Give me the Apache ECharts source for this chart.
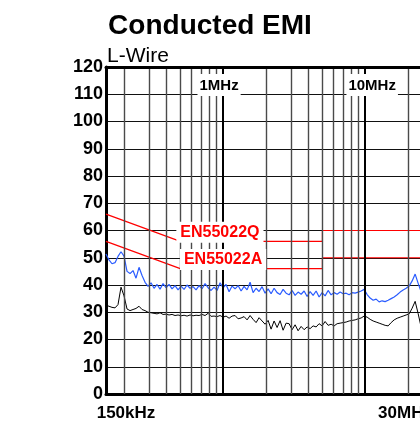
<!DOCTYPE html>
<html>
<head>
<meta charset="utf-8">
<script src="https://cdn.jsdelivr.net/npm/echarts@6/dist/echarts.min.js"></script>
<style>
  html, body { margin: 0; padding: 0; background: #fff; }
  #chart { width: 420px; height: 428px; }
</style>
</head>
<body>
<div id="chart"></div>
<script>
// ---- Data (frequencies in MHz, levels in dBuV) ----
const sweepFreqs = [
  0.150,0.1575,0.1653,0.1736,0.1822,0.1913,0.2009,0.2109,0.2214,0.2324,
  0.2440,0.2562,0.2690,0.2824,0.2964,0.3112,0.3267,0.3430,0.3601,0.3780,
  0.3969,0.4166,0.4374,0.4592,0.4821,0.5061,0.5313,0.5578,0.5856,0.6148,
  0.6454,0.6776,0.7113,0.7468,0.7840,0.8231,0.8641,0.9072,0.9524,1.000,
  1.0497,1.1020,1.1569,1.2146,1.2751,1.3386,1.4053,1.4753,1.5489,1.6260,
  1.7071,1.7921,1.8814,1.9752,2.0736,2.1769,2.2854,2.3993,2.5188,2.6444,
  2.7761,2.9145,3.0597,3.2122,3.3722,3.5403,3.7167,3.9019,4.0963,4.3004,
  4.5147,4.7397,4.9759,5.2238,5.4841,5.7574,6.0443,6.3454,6.6616,6.9936,
  7.3421,7.7079,8.0920,8.4952,8.9185,9.3630,9.8295,10.319,10.833,11.373,
  11.940,12.535,13.159,13.815,14.503,15.226,15.985,16.781,17.617,18.495,
  19.417,20.384,21.400,22.466,23.586,24.761
];
const peakValues = [
  51.4,49.2,47.8,48.2,50.5,52.2,50.6,45.0,44.2,45.3,
  42.5,46.5,43.5,41.0,39.5,40.8,38.8,40.2,38.5,40.5,
  39.0,40.2,38.6,39.8,38.2,39.6,38.4,40.0,38.8,39.4,
  38.2,39.8,38.6,40.5,39.0,38.0,39.2,38.0,40.8,39.0,
  40.2,37.5,39.6,38.6,39.8,37.8,39.5,38.2,41.0,37.2,
  38.8,37.6,39.4,37.0,38.6,36.8,38.8,37.2,36.5,38.4,
  37.0,36.4,38.0,36.2,37.4,36.6,37.8,35.8,37.6,36.2,
  37.8,35.6,37.2,36.0,38.0,36.4,37.2,36.6,37.4,36.8,
  37.0,36.4,37.2,37.0,37.4,37.8,38.4,36.5,35.2,34.4,
  34.8,33.8,34.2,33.9,34.4,35.0,35.6,36.4,37.4,38.2,
  38.8,39.6,41.5,44.0,40.6,37.5
];
const avgValues = [
  32.6,32.2,31.8,31.6,32.8,39.2,36.0,31.2,30.6,31.0,
  31.4,32.2,31.0,30.6,30.0,29.8,29.6,29.4,29.8,29.2,
  29.3,29.0,29.2,28.8,29.0,28.7,28.9,28.6,29.0,28.7,
  28.9,28.8,29.2,28.8,29.6,28.5,28.6,28.4,28.8,28.2,
  28.6,27.8,28.6,28.8,27.6,27.9,28.4,27.2,28.8,27.4,
  26.2,28.0,26.8,25.6,27.0,23.8,26.8,24.4,26.9,23.4,
  26.0,25.8,23.6,25.4,23.2,24.8,23.6,24.6,24.0,25.0,
  24.6,25.8,25.0,26.6,25.2,25.6,25.0,25.8,26.0,26.2,
  26.4,26.8,27.0,27.2,27.6,27.9,28.6,28.2,27.4,26.8,
  26.4,26.0,25.6,25.2,25.0,26.2,27.2,27.8,28.2,28.6,
  29.0,29.4,31.5,34.0,29.5,24.5
];
const limitFreqs = [0.15, 0.5, 5, 5, 30];
const limitQ = [66, 56, 56, 60, 60];
const limitA = [56, 46, 46, 50, 50];
const limitNames = ['EN55022Q', 'EN55022A'];
const gridFreqs = [0.2,0.3,0.4,0.5,0.6,0.7,0.8,0.9,1,2,3,4,5,6,7,8,9,10,20];
const majorFreqs = [1, 10];
const xLabelValues = [0.15, 1, 10, 30];
const xLabelTexts = ['150kHz', '1MHz', '10MHz', '30MHz'];
const yMin = 0, yMax = 120, yStep = 10;

const FONT = '"Liberation Sans", Arial, Helvetica, sans-serif';
const pair = (xs, ys) => xs.map((x, i) => [x, ys[i]]);
const near = (a, b) => Math.abs(Math.log10(a) - Math.log10(b)) < 1e-3;
const labelIdx = v => xLabelValues.findIndex(t => near(t, v));

const chart = echarts.init(document.getElementById('chart'), null, { renderer: 'canvas' });
chart.setOption({
  animation: false,
  backgroundColor: '#fff',
  title: [
    { text: 'Conducted EMI', left: 'center', top: 12, padding: 0,
      textStyle: { fontFamily: FONT, fontSize: 28, fontWeight: 'bold', color: '#000' } },
    { text: 'L-Wire', left: 107, top: 46, padding: 0,
      textStyle: { fontFamily: FONT, fontSize: 21, fontWeight: 'normal', color: '#000' } }
  ],
  grid: { left: 106, right: -13, top: 67, bottom: 34, containLabel: false, outerBoundsMode: 'none' },
  xAxis: [
    {
      type: 'log', logBase: 10, min: 0.15, max: 30, position: 'bottom',
      axisLine: { show: true, lineStyle: { color: '#000', width: 3 } },
      axisTick: { show: false }, splitLine: { show: false },
      axisLabel: {
        show: true, showMinLabel: true, showMaxLabel: true, margin: 11,
        formatter: v => {
          const i = labelIdx(v);
          if (i === 0) return '{sp| }{b|' + xLabelTexts[0] + '}';
          if (i === 3) return '{b|' + xLabelTexts[3] + '}{sp2| }';
          return '';
        },
        rich: {
          b: { fontFamily: FONT, fontSize: 17, fontWeight: 'bold', color: '#000' },
          sp: { width: 40, fontSize: 17 },
          sp2: { width: 56, fontSize: 17 }
        }
      }
    },
    {
      type: 'log', logBase: 10, min: 0.15, max: 30, position: 'top', z: 5,
      axisLine: { show: true, lineStyle: { color: '#000', width: 3 } },
      axisTick: { show: false }, splitLine: { show: false },
      axisLabel: {
        show: true, inside: true, margin: 7, showMinLabel: false, showMaxLabel: false,
        formatter: v => {
          const i = labelIdx(v);
          if (i === 1) return '{l|' + xLabelTexts[1] + '}{sp| }';
          if (i === 2) return '{sp2| }{l|' + xLabelTexts[2] + '}';
          return '';
        },
        rich: {
          l: { fontFamily: FONT, fontSize: 15, fontWeight: 'bold', color: '#000',
               backgroundColor: '#fff', padding: [4, 2, 3, 2] },
          sp: { width: 8, fontSize: 15 },
          sp2: { width: 14, fontSize: 15 }
        }
      }
    }
  ],
  yAxis: {
    type: 'value', min: yMin, max: yMax, interval: yStep,
    axisLine: { show: true, lineStyle: { color: '#000', width: 3 } },
    axisTick: { show: false },
    splitLine: { show: true, lineStyle: { color: '#111', width: 1.2 } },
    axisLabel: { fontFamily: FONT, fontSize: 18, fontWeight: 'bold', color: '#000',
                 margin: 3, padding: [6, 0, 0, 0] }
  },
  series: [
    {
      name: 'grid', type: 'line', z: 1, xAxisIndex: 0, silent: true,
      data: [[0.15, 0]], showSymbol: false, lineStyle: { opacity: 0 },
      markLine: {
        silent: true, symbol: ['none', 'none'], label: { show: false }, animation: false,
        data: gridFreqs.map(f => ({
          xAxis: f,
          lineStyle: majorFreqs.includes(f)
            ? { color: '#000', width: 2, type: 'solid' }
            : { color: '#4a4a4a', width: 1.4, type: 'solid' }
        }))
      }
    },
    {
      name: limitNames[0], type: 'line', z: 4, data: pair(limitFreqs, limitQ),
      showSymbol: false, lineStyle: { color: '#ff0000', width: 1.2 },
      markPoint: {
        symbol: 'rect', symbolSize: 1, itemStyle: { color: 'rgba(0,0,0,0)' },
        data: [{ coord: [0.95, 59.4] }],
        label: { show: true, position: 'inside', formatter: limitNames[0],
                 fontFamily: FONT, fontSize: 16, fontWeight: 'bold', color: '#ff0000',
                 backgroundColor: '#fff', padding: [3, 4, 2, 4] }
      }
    },
    {
      name: limitNames[1], type: 'line', z: 4, data: pair(limitFreqs, limitA),
      showSymbol: false, lineStyle: { color: '#ff0000', width: 1.2 },
      markPoint: {
        symbol: 'rect', symbolSize: 1, itemStyle: { color: 'rgba(0,0,0,0)' },
        data: [{ coord: [1.0, 49.4] }],
        label: { show: true, position: 'inside', formatter: limitNames[1],
                 fontFamily: FONT, fontSize: 16, fontWeight: 'bold', color: '#ff0000',
                 backgroundColor: '#fff', padding: [3, 4, 2, 4] }
      }
    },
    {
      name: 'Average', type: 'line', z: 2, data: pair(sweepFreqs, avgValues),
      showSymbol: false, lineStyle: { color: '#000', width: 1 }
    },
    {
      name: 'Peak', type: 'line', z: 3, data: pair(sweepFreqs, peakValues),
      showSymbol: false, lineStyle: { color: '#2a5cff', width: 1.2 }
    }
  ]
});
</script>
</body>
</html>
